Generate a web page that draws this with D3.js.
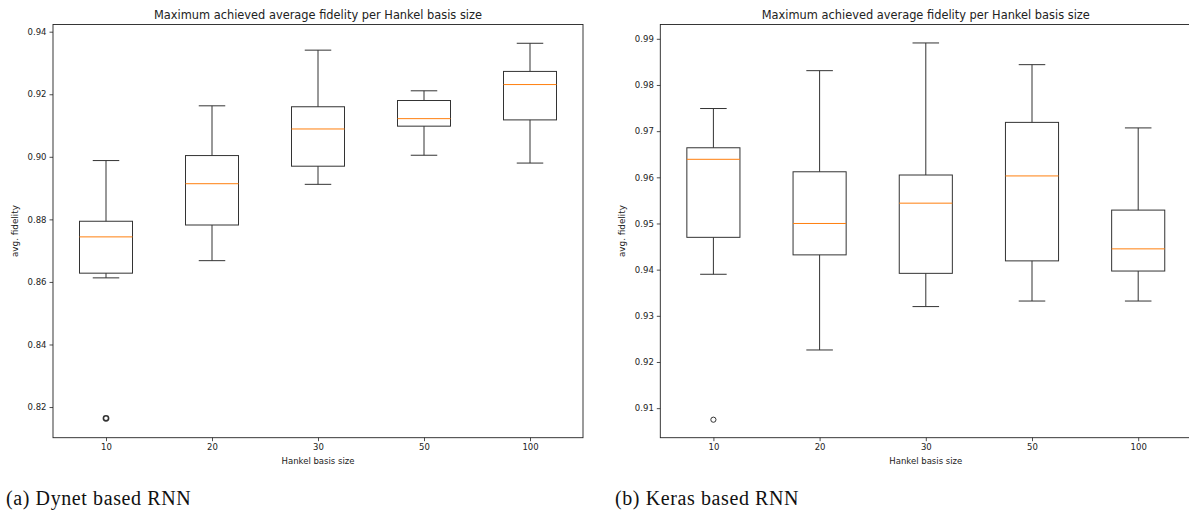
<!DOCTYPE html>
<html>
<head>
<meta charset="utf-8">
<script src="https://cdn.jsdelivr.net/npm/d3@7"></script>
<style>
  body { margin: 0; background: #fff; overflow: hidden; }
  svg { display: block; }
</style>
</head>
<body>
<div id="chart"></div>
<script>
// categories on the x axis
const basisSizes = ["10", "20", "30", "50", "100"];

// Dynet based RNN (box stats)
const dynetLow  = [0.8613, 0.8668, 0.8912, 0.9005, 0.8980];
const dynetQ1   = [0.8628, 0.8782, 0.8970, 0.9098, 0.9118];
const dynetMed  = [0.8744, 0.8914, 0.9089, 0.9122, 0.9231];
const dynetQ3   = [0.8794, 0.9004, 0.9160, 0.9180, 0.9273];
const dynetHigh = [0.8988, 0.9163, 0.9341, 0.9211, 0.9363];
const dynetOut  = [[0.8164], [], [], [], []];
const dynetTicks = [0.82, 0.84, 0.86, 0.88, 0.90, 0.92, 0.94];

// Keras based RNN
const kerasLow  = [0.9390, 0.9226, 0.9320, 0.9332, 0.9332];
const kerasQ1   = [0.9470, 0.9432, 0.9392, 0.9419, 0.9397];
const kerasMed  = [0.9639, 0.9500, 0.9544, 0.9603, 0.9445];
const kerasQ3   = [0.9664, 0.9612, 0.9605, 0.9719, 0.9529];
const kerasHigh = [0.9749, 0.9831, 0.9891, 0.9844, 0.9707];
const kerasOut  = [[0.9075], [], [], [], []];
const kerasTicks = [0.91, 0.92, 0.93, 0.94, 0.95, 0.96, 0.97, 0.98, 0.99];

const titleText = "Maximum achieved average fidelity per Hankel basis size";

const svg = d3.select("#chart").append("svg")
    .attr("width", 1189)
    .attr("height", 513);

function drawBoxPlot(cfg) {
    const x = d3.scaleLinear().domain([0.5, basisSizes.length + 0.5])
        .range([cfg.left, cfg.left + cfg.width]);
    const y = d3.scaleLinear().domain(cfg.yDomain)
        .range([cfg.top + cfg.height, cfg.top]);

    const g = svg.append("g");
    const font = "DejaVu Sans, sans-serif";

    // title
    g.append("text")
        .attr("x", cfg.left + cfg.width / 2)
        .attr("y", cfg.top - 6)
        .attr("text-anchor", "middle")
        .style("font", "11.4px " + font)
        .attr("fill", "#222")
        .text(titleText);

    // axes
    const xAxis = d3.axisBottom(x)
        .tickValues(d3.range(1, basisSizes.length + 1))
        .tickFormat((d, i) => basisSizes[i])
        .tickSize(3.5).tickSizeOuter(0).tickPadding(3);
    const yAxis = d3.axisLeft(y)
        .tickValues(cfg.ticks)
        .tickFormat(d3.format(".2f"))
        .tickSize(3.5).tickSizeOuter(0).tickPadding(3);

    const gx = g.append("g")
        .attr("transform", `translate(0,${cfg.top + cfg.height})`)
        .call(xAxis);
    const gy = g.append("g")
        .attr("transform", `translate(${cfg.left},0)`)
        .call(yAxis);
    [gx, gy].forEach(a => {
        a.selectAll("text").style("font", "8.5px " + font).attr("fill", "#222");
        a.selectAll("line").attr("stroke", "#222").attr("stroke-width", 0.8);
        a.select(".domain").remove();
    });

    // frame (spines)
    g.append("rect")
        .attr("x", cfg.left).attr("y", cfg.top)
        .attr("width", cfg.width).attr("height", cfg.height)
        .attr("fill", "none")
        .attr("stroke", "#222")
        .attr("stroke-width", 0.9);

    // axis labels
    g.append("text")
        .attr("x", cfg.left + cfg.width / 2)
        .attr("y", cfg.top + cfg.height + 26)
        .attr("text-anchor", "middle")
        .style("font", "8.5px " + font)
        .attr("fill", "#222")
        .text("Hankel basis size");
    g.append("text")
        .attr("transform", `translate(${cfg.left - 35},${cfg.top + cfg.height / 2}) rotate(-90)`)
        .attr("text-anchor", "middle")
        .style("font", "8.8px " + font)
        .attr("fill", "#222")
        .text("avg. fidelity");

    const boxW = (x(2) - x(1)) * 0.5;
    const capW = boxW / 2;
    const items = g.selectAll(".box")
        .data(basisSizes.map((d, i) => ({
            i: i + 1, low: cfg.low[i], q1: cfg.q1[i], med: cfg.med[i],
            q3: cfg.q3[i], high: cfg.high[i], out: cfg.out[i]
        })))
        .enter().append("g").attr("class", "box");

    const line = "#333";
    // whiskers
    items.append("line")
        .attr("x1", d => x(d.i)).attr("x2", d => x(d.i))
        .attr("y1", d => y(d.q3)).attr("y2", d => y(d.high))
        .attr("stroke", line).attr("stroke-width", 1);
    items.append("line")
        .attr("x1", d => x(d.i)).attr("x2", d => x(d.i))
        .attr("y1", d => y(d.q1)).attr("y2", d => y(d.low))
        .attr("stroke", line).attr("stroke-width", 1);
    // caps
    items.append("line")
        .attr("x1", d => x(d.i) - capW / 2).attr("x2", d => x(d.i) + capW / 2)
        .attr("y1", d => y(d.high)).attr("y2", d => y(d.high))
        .attr("stroke", line).attr("stroke-width", 1);
    items.append("line")
        .attr("x1", d => x(d.i) - capW / 2).attr("x2", d => x(d.i) + capW / 2)
        .attr("y1", d => y(d.low)).attr("y2", d => y(d.low))
        .attr("stroke", line).attr("stroke-width", 1);
    // box
    items.append("rect")
        .attr("x", d => x(d.i) - boxW / 2)
        .attr("y", d => y(d.q3))
        .attr("width", boxW)
        .attr("height", d => y(d.q1) - y(d.q3))
        .attr("fill", "none")
        .attr("stroke", line).attr("stroke-width", 1);
    // median
    items.append("line")
        .attr("x1", d => x(d.i) - boxW / 2).attr("x2", d => x(d.i) + boxW / 2)
        .attr("y1", d => y(d.med)).attr("y2", d => y(d.med))
        .attr("stroke", "#ff7f0e").attr("stroke-width", 1);
    // fliers
    items.selectAll(".flier")
        .data(d => d.out.map(v => ({ i: d.i, v: v })))
        .enter().append("circle")
        .attr("class", "flier")
        .attr("cx", d => x(d.i)).attr("cy", d => y(d.v))
        .attr("r", cfg.flierR)
        .attr("fill", "none")
        .attr("stroke", line).attr("stroke-width", cfg.flierW);

    // caption
    svg.append("text")
        .attr("x", cfg.captionX)
        .attr("y", 505)
        .style("font", "20px 'Liberation Serif', serif")
        .style("letter-spacing", "0.6px")
        .attr("fill", "#111")
        .text(cfg.caption);
}

drawBoxPlot({
    left: 53, top: 24.5, width: 530, height: 413.2,
    yDomain: [0.8102, 0.9423], ticks: dynetTicks,
    low: dynetLow, q1: dynetQ1, med: dynetMed, q3: dynetQ3, high: dynetHigh, out: dynetOut,
    flierR: 2.6, flierW: 1.6,
    caption: "(a) Dynet based RNN", captionX: 6
});

drawBoxPlot({
    left: 660.3, top: 24.5, width: 531, height: 413.2,
    yDomain: [0.9036, 0.9931], ticks: kerasTicks,
    low: kerasLow, q1: kerasQ1, med: kerasMed, q3: kerasQ3, high: kerasHigh, out: kerasOut,
    flierR: 2.6, flierW: 1,
    caption: "(b) Keras based RNN", captionX: 615
});
</script>
</body>
</html>
